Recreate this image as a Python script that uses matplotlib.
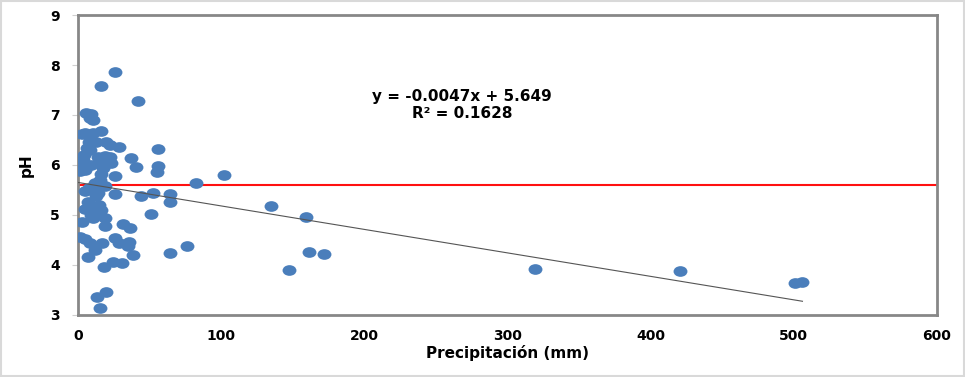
import numpy as np
import matplotlib
matplotlib.use('Agg')
from matplotlib import pyplot as plt
from matplotlib.path import Path
from matplotlib.transforms import Affine2D
from matplotlib.patches import Rectangle

# precipitación (mm) y pH
precip = [16, 26, 42, 5.6, 9, 10.5, 8.5, 5, 10.5, 16, 3, 7.7, 12.6, 19.6, 22,
          6.3, 8.4, 28.7, 56, 4, 14, 19, 22.4, 37, 3.5, 16, 20, 23, 9, 56,
          40.6, 3, 17.5, 1, 5, 55, 16, 26, 101.6, 82, 15.4, 12, 17, 19, 7.7,
          5, 11, 14, 26, 44, 52, 64, 64, 7, 12.6, 135, 14.7, 5, 10.5, 16,
          12.6, 9, 51, 159, 19, 3, 10.5, 31.5, 19, 36.4, 26, 1, 5, 8.4, 17,
          28.7, 35.7, 35, 75.7, 12, 64.5, 161, 171.7, 38.5, 7, 24.5, 30.8, 18,
          147, 319, 420.5, 500.5, 506, 19.6, 13.3, 15.4]
ph = [7.58, 7.86, 7.28, 7.04, 7.02, 6.9, 6.94, 6.64, 6.64, 6.68, 6.62, 6.46, 6.46, 6.46, 6.4,
      6.34, 6.3, 6.36, 6.32, 6.2, 6.16, 6.18, 6.16, 6.14, 6.1, 6.04, 6.04, 6.04, 6.0, 5.98,
      5.96, 5.94, 5.94, 5.88, 5.9, 5.86, 5.82, 5.78, 5.8, 5.64, 5.7, 5.64, 5.6, 5.58, 5.54,
      5.48, 5.5, 5.44, 5.42, 5.38, 5.44, 5.42, 5.26, 5.26, 5.38, 5.18, 5.2, 5.12, 5.1, 5.1,
      5.04, 5.0, 5.02, 4.96, 4.94, 4.86, 4.94, 4.82, 4.78, 4.74, 4.54, 4.56, 4.52, 4.44, 4.44,
      4.44, 4.46, 4.38, 4.38, 4.3, 4.24, 4.26, 4.22, 4.2, 4.16, 4.06, 4.04, 3.96,
      3.9, 3.92, 3.88, 3.64, 3.66, 3.46, 3.36, 3.14]

pendiente = -0.0047
intercepto = 5.649
r2 = 0.1628
ph_ref = 5.6  # línea roja

azul = '#4A7EBB'
gris = '#878787'

fig = plt.figure(figsize=(9.65, 3.77), dpi=100)
ax = fig.add_axes([0.081, 0.165, 0.890, 0.795])

# marcador ovalado (el original está estirado en horizontal)
ovalo = Path.unit_circle().transformed(Affine2D().scale(1.3, 1.0))
ax.scatter(precip, ph, s=100, marker=ovalo, color=azul, linewidths=0, zorder=3)

# línea de tendencia
xt = np.array([0, max(precip)])
ax.plot(xt, pendiente * xt + intercepto, color='#555555', lw=0.8, zorder=4)

ax.axhline(ph_ref, color='#FF1010', lw=1.5, zorder=2)

ax.text(268, 7.37, 'y = -0.0047x + 5.649', ha='center', va='center',
        fontsize=11, fontweight='bold')
ax.text(268, 7.03, 'R² = 0.1628', ha='center', va='center',
        fontsize=11, fontweight='bold')

ax.set_xlim(0, 600)
ax.set_ylim(3, 9)
ax.set_xticks(range(0, 601, 100))
ax.set_yticks(range(3, 10))
for s in ax.spines.values():
    s.set_color(gris)
    s.set_linewidth(2)
ax.tick_params(axis='x', length=0, pad=10, labelsize=10)
ax.tick_params(axis='y', length=4, color='#D0D0D0', direction='out', pad=9, labelsize=10)
for lb in ax.get_xticklabels() + ax.get_yticklabels():
    lb.set_fontweight('bold')

ax.set_xlabel('Precipitación (mm)', fontsize=11, fontweight='bold', labelpad=2)
ax.set_ylabel('pH', fontsize=11, fontweight='bold', labelpad=12)

# borde exterior gris claro
fig.patches.append(Rectangle((0.001, 0.002), 0.998, 0.996, transform=fig.transFigure,
                             fill=False, edgecolor='#D9D9D9', lw=1.5))

fig.savefig('out.png', dpi=100)
